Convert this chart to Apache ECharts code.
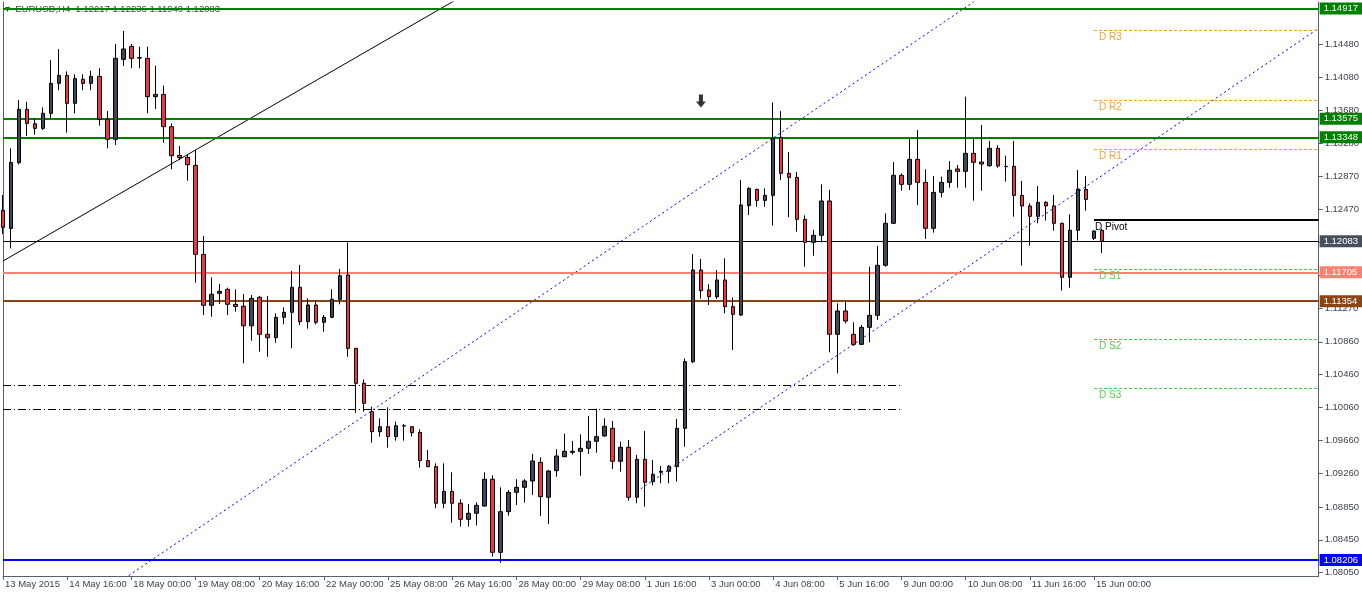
<!DOCTYPE html>
<html><head><meta charset="utf-8">
<script src="https://cdn.jsdelivr.net/npm/echarts@6.0.0/dist/echarts.min.js"></script>
<style>html,body{margin:0;padding:0;background:#fff;}#c{width:1362px;height:594px;}</style>
</head><body><div id="c"></div>
<script>
const symbolName = 'EURUSD,H4';
const tickLabels = ['13 May 2015','14 May 16:00','18 May 00:00','19 May 08:00','20 May 16:00','22 May 00:00','25 May 08:00','26 May 16:00','28 May 00:00','29 May 08:00','1 Jun 16:00','3 Jun 00:00','4 Jun 08:00','5 Jun 16:00','9 Jun 00:00','10 Jun 08:00','11 Jun 16:00','15 Jun 00:00'];
const opens = [1.12460,1.12240,1.13040,1.13689,1.13514,1.13457,1.13640,1.14005,1.14102,1.13762,
1.14054,1.14005,1.14090,1.13567,1.13324,1.14297,1.14455,1.14313,1.14309,1.13843,
1.13871,1.13478,1.13129,1.13105,1.13007,1.11924,1.11304,1.11450,1.11498,1.11316,
1.11292,1.11056,1.11401,1.10951,1.10910,1.11158,1.11219,1.11523,1.11105,1.11308,
1.11097,1.11158,1.11377,1.11673,1.10780,1.10355,1.10010,1.09766,1.09827,1.09706,
1.09835,1.09827,1.09758,1.09414,1.09341,1.08895,1.09040,1.08895,1.08700,1.08773,
1.08862,1.09187,1.08298,1.08793,1.09028,1.09089,1.09166,1.09393,1.08968,1.09292,
1.09462,1.09515,1.09527,1.09564,1.09649,1.09714,1.09807,1.09406,1.09576,1.08968,
1.09430,1.09158,1.09272,1.09284,1.09341,1.09807,1.10618,1.11734,1.11491,1.11409,
1.11612,1.11288,1.11186,1.12517,1.12715,1.12581,1.12642,1.13348,1.12910,1.12861,
1.12350,1.12070,1.12156,1.12573,1.10951,1.11235,1.10951,1.10829,1.11036,1.11182,
1.11791,1.12302,1.12886,1.12776,1.13080,1.12800,1.12241,1.12679,1.12800,1.12963,
1.12934,1.13153,1.13048,1.13003,1.13214,1.12995,1.12995,1.12642,1.12513,1.12387,
1.12557,1.12513,1.12302,1.11645,1.12217,1.12715,1.12119,1.12217];
const closes = [1.12253,1.13042,1.13689,1.13518,1.13457,1.13640,1.14005,1.14102,1.13762,1.14062,
1.14005,1.14090,1.13567,1.13324,1.14309,1.14423,1.14309,1.14317,1.13843,1.13871,
1.13478,1.13125,1.13101,1.13015,1.11924,1.11304,1.11438,1.11474,1.11316,1.11290,
1.11056,1.11389,1.10951,1.10910,1.11158,1.11219,1.11523,1.11105,1.11308,1.11097,
1.11158,1.11377,1.11665,1.10780,1.10355,1.10111,1.09766,1.09827,1.09706,1.09839,
1.09839,1.09754,1.09414,1.09341,1.08895,1.09040,1.08895,1.08700,1.08773,1.08870,
1.09187,1.08298,1.08793,1.09028,1.09089,1.09166,1.09410,1.08976,1.09288,1.09470,
1.09527,1.09527,1.09564,1.09649,1.09706,1.09831,1.09406,1.09576,1.08968,1.09430,
1.09150,1.09247,1.09284,1.09345,1.09807,1.10618,1.11734,1.11482,1.11409,1.11612,
1.11288,1.11194,1.12525,1.12727,1.12581,1.12642,1.13336,1.12910,1.12861,1.12350,
1.12070,1.12156,1.12573,1.10951,1.11235,1.11113,1.10829,1.11036,1.11182,1.11791,
1.12302,1.12886,1.12776,1.13080,1.12800,1.12241,1.12679,1.12800,1.12947,1.12934,
1.13153,1.13044,1.13024,1.13214,1.12999,1.12991,1.12642,1.12513,1.12387,1.12557,
1.12513,1.12302,1.11645,1.12217,1.12719,1.12593,1.12208,1.12083];
const lows = [1.12172,1.11997,1.13020,1.13364,1.13380,1.13437,1.13579,1.13924,1.13405,1.13640,
1.13924,1.13924,1.13490,1.13214,1.13255,1.14216,1.14188,1.14188,1.13640,1.13693,
1.13283,1.12959,1.13072,1.12821,1.11580,1.11186,1.11166,1.11320,1.11186,1.11227,
1.10598,1.10874,1.10740,1.10679,1.10849,1.11073,1.10781,1.11064,1.11020,1.11073,
1.10983,1.11146,1.11316,1.10679,1.09998,1.10010,1.09633,1.09706,1.09572,1.09657,
1.09657,1.09706,1.09329,1.09333,1.08834,1.08834,1.08659,1.08611,1.08611,1.08627,
1.08854,1.08246,1.08172,1.08744,1.08874,1.08903,1.08996,1.08740,1.08643,1.09219,
1.09454,1.09487,1.09231,1.09495,1.09511,1.09706,1.09312,1.09280,1.08927,1.08895,
1.08854,1.09113,1.09138,1.09138,1.09158,1.09584,1.10600,1.11385,1.11308,1.11381,
1.11207,1.10760,1.11174,1.12403,1.12504,1.12504,1.12273,1.12829,1.12375,1.12200,
1.11774,1.11908,1.12070,1.10732,1.10476,1.11085,1.10813,1.10821,1.10854,1.11126,
1.11774,1.12294,1.12699,1.12707,1.12525,1.12111,1.12188,1.12618,1.12736,1.12736,
1.12736,1.12577,1.12699,1.12991,1.12979,1.12809,1.12383,1.11787,1.12030,1.12302,
1.12334,1.12212,1.11482,1.11519,1.12091,1.12455,1.12098,1.11940];
const highs = [1.12646,1.13214,1.13802,1.13778,1.13579,1.13713,1.14289,1.14423,1.14151,1.14115,
1.14115,1.14159,1.14188,1.13668,1.14484,1.14642,1.14484,1.14451,1.14451,1.14220,
1.13977,1.13518,1.13243,1.13133,1.13194,1.12147,1.11644,1.11563,1.11519,1.11498,
1.11442,1.11429,1.11417,1.11417,1.11206,1.11279,1.11722,1.11795,1.11389,1.11361,
1.11186,1.11498,1.11746,1.12070,1.10785,1.10403,1.10071,1.09929,1.10063,1.09888,
1.09860,1.09835,1.09795,1.09543,1.09381,1.09381,1.09272,1.08943,1.08886,1.08907,
1.09272,1.09235,1.09089,1.09057,1.09187,1.09187,1.09495,1.09454,1.09300,1.09551,
1.09742,1.09653,1.09734,1.09957,1.10046,1.09929,1.09896,1.09645,1.09665,1.09483,
1.09775,1.09422,1.09349,1.09361,1.09921,1.10659,1.11928,1.11868,1.11559,1.11734,
1.11876,1.11401,1.12829,1.12740,1.12723,1.12727,1.13774,1.13668,1.13170,1.12926,
1.12399,1.12221,1.12776,1.12707,1.11328,1.11344,1.11097,1.11065,1.11774,1.12026,
1.12423,1.13048,1.12910,1.13336,1.13437,1.12959,1.12878,1.12869,1.13060,1.13011,
1.13843,1.13336,1.13498,1.13303,1.13255,1.13125,1.13303,1.12817,1.12545,1.12756,
1.12573,1.12646,1.12310,1.12411,1.12951,1.12877,1.12217,1.12236];
const yTickValues = [1.08050,1.08450,1.08850,1.09260,1.09660,1.10060,1.10460,1.10860,1.11270,1.11670,1.12070,1.12470,1.12870,1.13280,1.13680,1.14080,1.14480];
const levelValues = [1.14917,1.13575,1.13348,1.12083,1.11705,1.11354,1.08206];
const pivotNames = ['D R3','D R2','D R1','D Pivot','D S1','D S2','D S3'];
const pivotValues = [1.14655,1.13802,1.13202,1.12342,1.11742,1.10891,1.10294];
const dashDotValues = [1.10326,1.10039];
const trendBlack = [[0,1.11843],[60,1.15221]];
const channelUpper = [[10,1.07639],[125,1.15262]];
const channelLower = [[79,1.09038],[164,1.14675]];
const sellArrow = [[87,1.13790]];

const NCAT = 165;
const categories = Array.from({length: NCAT}, (_, i) => String(i));
const FONT = '"Liberation Sans", Arial, sans-serif';
const TXT = '#3c4350';
const AX = '#56606b';
const levelColors = ['#008000','#008000','#008000','#000000','#fa8072','#8b4513','#0000ff'];
const levelBoxColors = ['#008000','#008000','#008000','#46505c','#fa8072','#8b4513','#0000ff'];
const levelWidths = [2,2,2,1,2,2,2];
const pivotColors = ['#ff9a1a','#ff9a1a','#ff9a1a','#000000','#3fcf3f','#3fcf3f','#3fcf3f'];
const pivotTextColors = ['#f7a030','#f7a030','#f7a030','#000000','#4fd04a','#4fd04a','#4fd04a'];

const candles = opens.map((o, i) => [o, closes[i], lows[i], highs[i]]);
const tickShown = (i) => i % 8 === 0 && i / 8 < tickLabels.length;
const last = opens.length - 1;
const header = '\u25BE  ' + symbolName + '  ' + [opens[last], highs[last], lows[last], closes[last]].map(v => v.toFixed(5)).join(' ');

const levelItems = levelValues.map((v, k) => ({
  yAxis: v,
  lineStyle: {color: levelColors[k], width: levelWidths[k], type: 'solid'},
  label: {show: true, position: 'end', formatter: v.toFixed(5), color: '#fff',
    backgroundColor: levelBoxColors[k], padding: [1, 5, 0, 4], fontSize: 9.5, lineHeight: 11,
    fontFamily: FONT, distance: 1}
}));
const pivotItems = pivotValues.map((v, k) => ([
  {coord: [136, v],
   lineStyle: {color: pivotColors[k], width: k === 3 ? 2 : 1, type: k === 3 ? 'solid' : [3, 2]},
   label: {show: true, position: 'insideStartBottom', formatter: pivotNames[k], color: pivotTextColors[k],
     fontSize: 10, fontFamily: FONT, distance: [k === 3 ? 1 : 5, 2]}},
  {coord: [164, v]}
]));
const dashItems = dashDotValues.map(v => ([
  {coord: [0, v], lineStyle: {color: '#000', width: 1, type: [8, 3, 1, 3]}, label: {show: false}},
  {coord: [112, v]}
]));

const chart = echarts.init(document.getElementById('c'), null, {renderer: 'canvas'});
chart.setOption({
  animation: false,
  backgroundColor: '#ffffff',
  title: {text: header, left: 5, top: 4, padding: 0, z: 0,
    textStyle: {fontSize: 9.5, fontWeight: 'normal', color: TXT, fontFamily: FONT}},
  grid: {left: 3, right: 43, top: 2, bottom: 18, containLabel: false},
  xAxis: {
    type: 'category', data: categories, boundaryGap: false,
    axisLine: {show: true, lineStyle: {color: AX, width: 1}},
    axisTick: {show: true, interval: tickShown, length: 4, lineStyle: {color: AX}},
    axisLabel: {interval: tickShown, formatter: (v) => tickLabels[Number(v) / 8] || '',
      align: 'left', margin: 3, fontSize: 9.5, color: TXT, fontFamily: FONT, padding: [0, 0, 0, 2]},
    splitLine: {show: false}
  },
  yAxis: [{
    type: 'value', position: 'right', min: 1.0801, max: 1.14995,
    axisLine: {show: true, lineStyle: {color: AX}},
    axisTick: {show: true, length: 4, customValues: yTickValues, lineStyle: {color: AX}},
    axisLabel: {customValues: yTickValues, formatter: (v) => v.toFixed(5), margin: 6,
      fontSize: 9.5, color: TXT, fontFamily: FONT},
    splitLine: {show: false}
  }, {
    type: 'value', position: 'left', min: 1.0801, max: 1.14995,
    axisLine: {show: true, lineStyle: {color: AX}},
    axisTick: {show: false}, axisLabel: {show: false}, splitLine: {show: false}
  }],
  series: [
    {type: 'line', data: [], z: 2, silent: true,
     markLine: {symbol: ['none', 'none'], silent: true, animation: false, precision: 5,
       data: [...levelItems, ...pivotItems, ...dashItems]}},
    {type: 'line', data: trendBlack, symbol: 'none', z: 3, silent: true, clip: true,
     lineStyle: {color: '#000', width: 1}},
    {type: 'line', data: channelUpper, symbol: 'none', z: 3, silent: true, clip: true,
     lineStyle: {color: '#0000ff', width: 1, type: [2, 3]}},
    {type: 'line', data: channelLower, symbol: 'none', z: 3, silent: true, clip: true,
     lineStyle: {color: '#0000ff', width: 1, type: [2, 3]}},
    {type: 'candlestick', data: candles, barWidth: 4, z: 5, silent: true, clip: true,
     itemStyle: {color: '#3d4756', color0: '#f2333b', borderColor: '#000', borderColor0: '#000', borderWidth: 1}},
    {type: 'scatter', data: sellArrow, z: 6, silent: true,
     symbol: 'path://M3,0L7,0L7,7L10,7L5,13L0,7L3,7Z', symbolSize: [10, 13],
     itemStyle: {color: '#000'}}
  ]
});
</script></body></html>
